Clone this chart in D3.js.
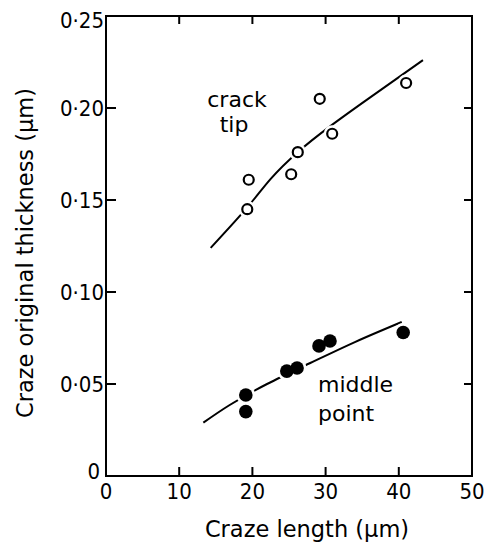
<!DOCTYPE html>
<html><head><meta charset="utf-8">
<script src="https://cdn.jsdelivr.net/npm/d3@7"></script>
<style>
body{margin:0;background:#fff;}
svg{display:block;}
text{font-family:"DejaVu Sans",sans-serif;fill:#000;}
.tl{font-stretch:condensed;font-size:22px;}
</style></head>
<body><svg id="c" width="487" height="546"></svg>
<script>
// ---- data ----
const xTicks = [0, 10, 20, 30, 40, 50];
const yTicks = [0, 0.05, 0.10, 0.15, 0.20, 0.25];
const xTitle = "Craze length (\u00b5m)";
const yTitle = "Craze original thickness (\u00b5m)";

const tipX = [19.3, 19.5, 25.3, 26.2, 29.2, 30.9, 41.0];
const tipY = [0.145, 0.161, 0.164, 0.176, 0.205, 0.186, 0.2136];
const tipCurveX = [14.3, 19.3, 22.5, 26.2, 30.6, 36, 43.3];
const tipCurveY = [0.124, 0.146, 0.1615, 0.176, 0.190, 0.2055, 0.226];

const midX = [19.1, 19.1, 24.7, 26.1, 29.1, 30.6, 40.6];
const midY = [0.044, 0.035, 0.057, 0.0587, 0.0707, 0.0734, 0.078];
const midCurveX = [13.3, 16.9, 22, 27.9, 34, 40.4];
const midCurveY = [0.029, 0.0386, 0.0500, 0.0614, 0.0728, 0.0837];

// ---- chart ----
const svg = d3.select("#c");
const x = d3.scaleLinear().domain([0, 50]).range([106, 472]);
const y = d3.scaleLinear().domain([0, 0.25]).range([476, 16]);
const fmtY = v => v === 0 ? "0" : d3.format(".2f")(v).replace(".", "\u00b7");
const x0 = x.range()[0], x1 = x.range()[1], y0 = y.range()[0], y1 = y.range()[1];

const g = svg.append("g");
// frame
g.append("rect").attr("x", x0).attr("y", y1)
  .attr("width", x1 - x0).attr("height", y0 - y1)
  .attr("fill", "none").attr("stroke", "#000").attr("stroke-width", 2);

// inward ticks
const inner = xTicks.slice(1, -1), innerY = yTicks.slice(1, -1);
const tk = g.append("g").attr("stroke", "#000").attr("stroke-width", 2);
inner.forEach(v => {
  tk.append("line").attr("x1", x(v)).attr("x2", x(v)).attr("y1", y0).attr("y2", y0 - 9);
  tk.append("line").attr("x1", x(v)).attr("x2", x(v)).attr("y1", y1).attr("y2", y1 + 8);
});
innerY.forEach(v => {
  tk.append("line").attr("x1", x0).attr("x2", x0 + 10).attr("y1", y(v)).attr("y2", y(v));
  tk.append("line").attr("x1", x1).attr("x2", x1 - 8).attr("y1", y(v)).attr("y2", y(v));
});

// tick labels
g.append("g").selectAll("text").data(xTicks).join("text").attr("class", "tl")
  .attr("x", d => x(d)).attr("y", y0 + 23).attr("text-anchor", "middle").text(d3.format("d"));
g.append("g").selectAll("text").data(yTicks).join("text").attr("class", "tl")
  .attr("x", d => d === 0 ? x0 - 6 : x0 - 2)
  .attr("y", d => y(d) + (d === 0 ? 3 : d === 0.25 ? 12 : 8))
  .attr("text-anchor", "end").text(fmtY);

// curves
const line = d3.line().x(d => x(d[0])).y(d => y(d[1])).curve(d3.curveNatural);
g.append("path").datum(d3.zip(tipCurveX, tipCurveY)).attr("d", line)
  .attr("fill", "none").attr("stroke", "#000").attr("stroke-width", 2);
g.append("path").datum(d3.zip(midCurveX, midCurveY)).attr("d", line)
  .attr("fill", "none").attr("stroke", "#000").attr("stroke-width", 2);

// markers with white halos
const tip = d3.zip(tipX, tipY), mid = d3.zip(midX, midY);
g.append("g").selectAll("circle").data(tip).join("circle").attr("cx", d => x(d[0])).attr("cy", d => y(d[1]))
  .attr("r", 8.5).attr("fill", "#fff");
g.append("g").selectAll("circle").data(mid).join("circle").attr("cx", d => x(d[0])).attr("cy", d => y(d[1]))
  .attr("r", 9.5).attr("fill", "#fff");
g.append("g").selectAll("circle").data(tip).join("circle").attr("cx", d => x(d[0])).attr("cy", d => y(d[1]))
  .attr("r", 5).attr("fill", "#fff").attr("stroke", "#000").attr("stroke-width", 2.2);
g.append("g").selectAll("circle").data(mid).join("circle").attr("cx", d => x(d[0])).attr("cy", d => y(d[1]))
  .attr("r", 6.8).attr("fill", "#000");

// annotations
const ann = g.append("g").style("font-size", "22px");
ann.append("text").attr("x", 237).attr("y", 107).attr("text-anchor", "middle").text("crack");
ann.append("text").attr("x", 234).attr("y", 132).attr("text-anchor", "middle").text("tip");
ann.append("text").attr("x", 318).attr("y", 392).text("middle");
ann.append("text").attr("x", 318).attr("y", 421).text("point");

// titles
svg.append("text").attr("x", 307).attr("y", 537).attr("text-anchor", "middle")
  .style("font-size", "22.5px").text(xTitle);
svg.append("text").attr("transform", "translate(33,253) rotate(-90)").attr("text-anchor", "middle")
  .style("font-size", "22.5px").text(yTitle);
</script></body></html>
